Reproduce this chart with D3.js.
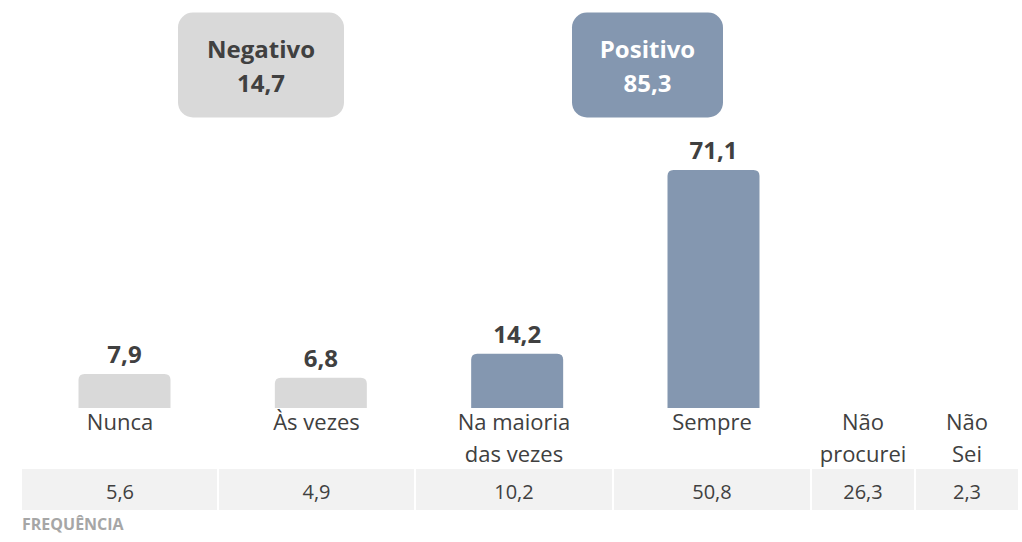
<!DOCTYPE html>
<html><head><meta charset="utf-8">
<script src="https://cdn.jsdelivr.net/npm/d3@7"></script>
<style>body{margin:0;background:#fff}svg{display:block}text{font-family:"Open Sans",sans-serif}</style>
</head><body><svg id="c" width="1022" height="542"></svg>
<script>
const categories = [["Nunca"],["Às vezes"],["Na maioria","das vezes"],["Sempre"],["Não","procurei"],["Não","Sei"]];
const barValues = [7.9, 6.8, 14.2, 71.1];
const barGroup = ["neg","neg","pos","pos"];
const frequencia = ["5,6","4,9","10,2","50,8","26,3","2,3"];
const summaryLabels = ["Negativo","Positivo"];
const summaryValues = ["14,7","85,3"];
const colWidths = [196,197,198,198,104,104];

const svg = d3.select("#c");
const col = {neg:"#d9d9d9", pos:"#8497b0"};
const fmt = v => d3.format(".1f")(v).replace(".", ",");

const edges = [22];
colWidths.forEach(w => edges.push(edges[edges.length-1]+w));
const centers = colWidths.map((w,i)=>edges[i]+w/2);

const x = d3.scalePoint().domain(d3.range(barValues.length)).range([124.5, 713.5]);
const y = d3.scaleLinear().domain([-2.6, 71.1]).range([408, 170]);
const bw = 92;

function topRounded(x0, yt, w, h, r){
  return `M${x0},${yt+h}V${yt+r}Q${x0},${yt} ${x0+r},${yt}H${x0+w-r}Q${x0+w},${yt} ${x0+w},${yt+r}V${yt+h}Z`;
}
svg.selectAll("path.bar").data(barValues).join("path")
  .attr("d",(d,i)=>topRounded(x(i)-bw/2, y(d), bw, y(-2.6)-y(d), 6))
  .attr("fill",(d,i)=>col[barGroup[i]]);
svg.selectAll("text.val").data(barValues).join("text")
  .attr("x",(d,i)=>x(i)).attr("y",d=>y(d)-11)
  .attr("text-anchor","middle").attr("font-weight","bold").attr("font-size",24).attr("fill","#404040")
  .text(fmt);

categories.forEach((lines,i)=>{
  lines.forEach((l,j)=>{
    svg.append("text").attr("x",centers[i]).attr("y",430+j*31.5)
      .attr("text-anchor","middle").attr("font-size",22).attr("fill","#404040").text(l);
  });
});

colWidths.forEach((w,i)=>{
  svg.append("rect").attr("x",edges[i]+(i?1:0)).attr("y",469).attr("width",w-(i?1:0)-1).attr("height",41).attr("fill","#f2f2f2");
  svg.append("text").attr("x",centers[i]).attr("y",498.5).attr("text-anchor","middle")
    .attr("font-size",20).attr("fill","#404040").text(frequencia[i]);
});
svg.append("text").attr("x",22).attr("y",530).attr("font-size",16).attr("font-weight","bold").attr("fill","#a6a6a6").text("FREQUÊNCIA");

const boxes = [{x:178,w:166,fill:col.neg,tc:"#404040"},{x:572,w:151,fill:col.pos,tc:"#ffffff"}];
boxes.forEach((b,i)=>{
  svg.append("rect").attr("x",b.x).attr("y",12.5).attr("width",b.w).attr("height",105).attr("rx",15).attr("fill",b.fill);
  svg.append("text").attr("x",b.x+b.w/2).attr("y",58).attr("text-anchor","middle").attr("font-weight","bold").attr("font-size",24).attr("fill",b.tc).text(summaryLabels[i]);
  svg.append("text").attr("x",b.x+b.w/2).attr("y",92).attr("text-anchor","middle").attr("font-weight","bold").attr("font-size",24).attr("fill",b.tc).text(summaryValues[i]);
});
</script></body></html>
